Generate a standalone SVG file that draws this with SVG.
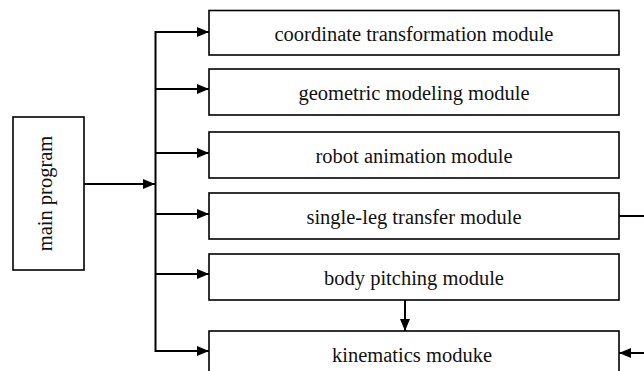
<svg xmlns="http://www.w3.org/2000/svg" width="644" height="371" viewBox="0 0 644 371">
<defs>
<marker id="ah" viewBox="0 0 12 10" refX="12" refY="5" markerWidth="12" markerHeight="10" markerUnits="userSpaceOnUse" orient="auto">
<path d="M0,0 L12,5 L0,10 z" fill="#000"/>
</marker>
<style>
.box{fill:#fff;stroke:#000;stroke-width:1.6}
.t{font-family:"Liberation Serif","Times New Roman",serif;font-size:20.5px;fill:#111;text-anchor:middle}
.c{fill:none;stroke:#000;stroke-width:2}
</style>
</defs>
<rect width="644" height="371" fill="#fff"/>
<g id="connectors">
<line class="c" x1="84" y1="184" x2="155" y2="184" marker-end="url(#ah)"/>
<line class="c" x1="155.5" y1="31" x2="155.5" y2="352"/>
<line class="c" x1="155" y1="32" x2="209" y2="32" marker-end="url(#ah)"/>
<line class="c" x1="155" y1="89" x2="209" y2="89" marker-end="url(#ah)"/>
<line class="c" x1="155" y1="153" x2="209" y2="153" marker-end="url(#ah)"/>
<line class="c" x1="155" y1="214" x2="209" y2="214" marker-end="url(#ah)"/>
<line class="c" x1="155" y1="274" x2="209" y2="274" marker-end="url(#ah)"/>
<line class="c" x1="155" y1="351" x2="209" y2="351" marker-end="url(#ah)"/>
<line class="c" x1="405" y1="300" x2="405" y2="331" marker-end="url(#ah)"/>
<path class="c" d="M619,216 H660 V353 H619" marker-end="url(#ah)"/>
</g>
<g id="main">
<rect class="box" x="13" y="117" width="71" height="153"/>
<text class="t" transform="translate(52,193.5) rotate(-90)" x="0" y="0">main program</text>
</g>
<g id="coord">
<rect class="box" x="209" y="10.5" width="410" height="44.5"/>
<text class="t" x="414" y="41">coordinate transformation module</text>
</g>
<g id="geom">
<rect class="box" x="209" y="69" width="410" height="46"/>
<text class="t" x="414" y="100">geometric modeling module</text>
</g>
<g id="anim">
<rect class="box" x="209" y="132" width="410" height="46"/>
<text class="t" x="414" y="163">robot animation module</text>
</g>
<g id="singleleg">
<rect class="box" x="209" y="193" width="410" height="46"/>
<text class="t" x="414" y="224">single-leg transfer module</text>
</g>
<g id="body">
<rect class="box" x="209" y="254" width="410" height="46"/>
<text class="t" x="414" y="285">body pitching module</text>
</g>
<g id="kin">
<rect class="box" x="209" y="331" width="410" height="46"/>
<text class="t" x="412" y="362">kinematics moduke</text>
</g>
</svg>
